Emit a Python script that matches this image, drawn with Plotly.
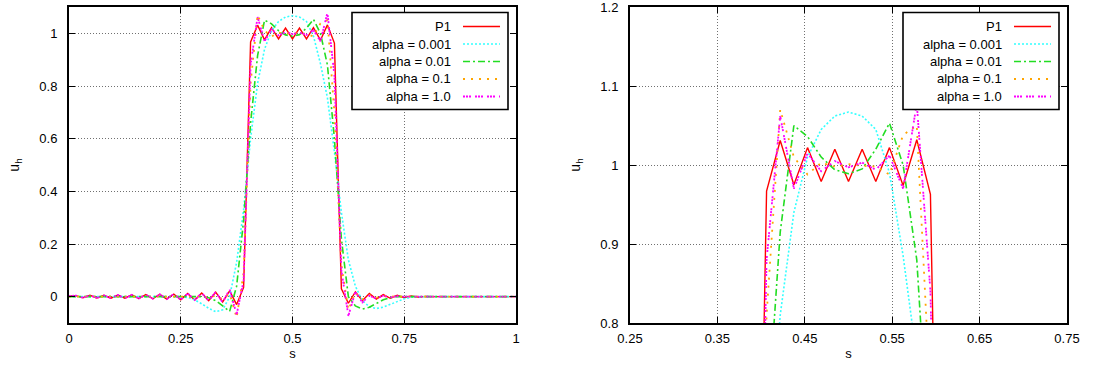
import plotly.graph_objects as go

# ---------------- data (mesh nodes s = k/64, k = 0..64) ----------------
s_nodes = [k / 64 for k in range(65)]

u_p1 = [
    0.002, 0.004, -0.004, 0.005, -0.005, 0.005, -0.006, 0.006, -0.006, 0.007,   # 0-9
    -0.007, 0.008, -0.008, 0.009, -0.009, 0.010, -0.012, 0.012, -0.013, 0.014,  # 10-19
    -0.015, 0.017, -0.020, 0.022, -0.030, 0.035, 0.967, 1.031, 0.975, 1.022,    # 20-29
    0.979, 1.020, 0.979, 1.020, 0.979, 1.022, 0.974, 1.032, 0.963, 0.030,       # 30-39
    -0.025, 0.018, -0.015, 0.012, -0.009, 0.008, -0.006, 0.005, -0.004, 0.003,  # 40-49
    -0.002, 0.001, 0.0, 0.0, 0.0, 0.0, 0.0, 0.0, 0.0, 0.0,                      # 50-59
    0.0, 0.0, 0.0, 0.0, 0.0,                                                    # 60-64
]

u_a0001 = [
    0.0, 0.0, 0.0, 0.0, 0.0, 0.0, 0.0, 0.0, 0.0, 0.0,                           # 0-9
    0.0, 0.0, 0.0, 0.0, 0.0, 0.0, 0.0, -0.003, -0.012, -0.027,                  # 10-19
    -0.044, -0.057, -0.050, 0.000, 0.130, 0.330, 0.600, 0.810, 0.940, 1.010,    # 20-29
    1.045, 1.062, 1.067, 1.062, 1.045, 0.990, 0.885, 0.755, 0.550, 0.320,       # 30-39
    0.140, 0.040, -0.015, -0.038, -0.045, -0.040, -0.030, -0.018, -0.008, -0.002,  # 40-49
    0.0, 0.0, 0.0, 0.0, 0.0, 0.0, 0.0, 0.0, 0.0, 0.0,                           # 50-59
    0.0, 0.0, 0.0, 0.0, 0.0,                                                    # 60-64
]

u_a001 = [
    0.0, 0.0, 0.0, 0.0, 0.0, 0.0, 0.0, 0.0, 0.0, 0.0,                           # 0-9
    0.0, 0.0, 0.0, 0.0, 0.0, 0.0, 0.0, 0.0, 0.0, 0.0,                           # 10-19
    -0.004, -0.015, -0.035, -0.056, 0.040, 0.290, 0.660, 0.915, 1.050, 1.036,   # 20-29
    1.010, 0.994, 0.989, 0.995, 1.020, 1.053, 1.000, 0.880, 0.600, 0.220,       # 30-39
    0.000, -0.035, -0.047, -0.040, -0.026, -0.012, -0.004, 0.0, 0.0, 0.0,       # 40-49
    0.0, 0.0, 0.0, 0.0, 0.0, 0.0, 0.0, 0.0, 0.0, 0.0,                           # 50-59
    0.0, 0.0, 0.0, 0.0, 0.0,                                                    # 60-64
]

u_a01 = [
    0.0, 0.0, 0.0, 0.0, 0.0, 0.0, 0.0, 0.0, 0.0, 0.0,                           # 0-9
    0.0, 0.0, 0.0, 0.0, 0.0, 0.0, 0.0, 0.0, 0.0, 0.0,                           # 10-19
    -0.004, 0.004, -0.010, 0.012, -0.080, 0.090, 0.810, 1.070, 1.010, 0.988,    # 20-29
    1.003, 0.998, 1.001, 0.999, 0.998, 0.988, 1.038, 1.050, 0.700, 0.120,       # 30-39
    -0.050, 0.015, -0.010, 0.006, -0.004, 0.002, 0.0, 0.0, 0.0, 0.0,           # 40-49
    0.0, 0.0, 0.0, 0.0, 0.0, 0.0, 0.0, 0.0, 0.0, 0.0,                           # 50-59
    0.0, 0.0, 0.0, 0.0, 0.0,                                                    # 60-64
]

u_a1 = [
    0.002, 0.004, -0.004, 0.005, -0.005, 0.005, -0.006, 0.006, -0.006, 0.007,   # 0-9
    -0.007, 0.008, -0.008, 0.009, -0.009, 0.010, -0.011, 0.012, -0.013, 0.014,  # 10-19
    -0.016, 0.018, -0.022, 0.028, -0.068, 0.060, 0.880, 1.062, 0.970, 1.015,    # 20-29
    0.992, 1.005, 0.997, 1.003, 0.994, 1.012, 0.970, 1.078, 0.840, 0.100,       # 30-39
    -0.073, 0.018, -0.022, 0.004, -0.008, 0.004, -0.003, 0.002, 0.0, 0.0,      # 40-49
    0.0, 0.0, 0.0, 0.0, 0.0, 0.0, 0.0, 0.0, 0.0, 0.0,                           # 50-59
    0.0, 0.0, 0.0, 0.0, 0.0,                                                    # 60-64
]

series_names = ["P1", "alpha = 0.001", "alpha = 0.01", "alpha = 0.1", "alpha = 1.0"]
series_values = [u_p1, u_a0001, u_a001, u_a01, u_a1]

left_xticks = [0, 0.25, 0.5, 0.75, 1]
left_xticktext = ["0", "0.25", "0.5", "0.75", "1"]
left_yticks = [0, 0.2, 0.4, 0.6, 0.8, 1]
left_yticktext = ["0", "0.2", "0.4", "0.6", "0.8", "1"]
right_xticks = [0.25, 0.35, 0.45, 0.55, 0.65, 0.75]
right_xticktext = ["0.25", "0.35", "0.45", "0.55", "0.65", "0.75"]
right_yticks = [0.8, 0.9, 1.0, 1.1, 1.2]
right_yticktext = ["0.8", "0.9", "1", "1.1", "1.2"]

x_title = "s"
y_title = "u<sub>h</sub>"

# ---------------- styles ----------------
W, H = 1094, 367
FONT = "Liberation Sans, Arial, Helvetica, sans-serif"
colors = ["#ff0000", "#33ffff", "#22dd22", "#ffa500", "#ff00ff"]
dashes = ["solid", "2px,2px", "7px,3px,2px,3px", "2px,6px", "2px,1px,2px,1px,2px,4px"]
widths = [1.4, 1.6, 1.6, 1.8, 1.8]

def px(x):
    return x / W

def py(y):
    return 1 - y / H

fig = go.Figure()

for ax_suffix in ["", "2"]:
    for name, vals, c, d, w in zip(series_names, series_values, colors, dashes, widths):
        fig.add_trace(go.Scatter(
            x=s_nodes, y=vals, mode="lines", name=name,
            line=dict(color=c, dash=d, width=w),
            xaxis="x" + ax_suffix, yaxis="y" + ax_suffix,
            showlegend=False, hoverinfo="skip",
        ))

# plot frames in pixels
L_frame = (69, 516)
R_frame = (630, 1067)
TOP, BOT = 7, 323

axis_common = dict(
    showline=True, linecolor="black", linewidth=2, mirror="allticks",
    ticks="inside", ticklen=6, tickwidth=1, tickcolor="black",
    showgrid=True, gridcolor="#707070", griddash="1px,2px", gridwidth=1,
    zeroline=False, tickfont=dict(family=FONT, size=13, color="black"),
    automargin=False, fixedrange=True, ticklabeloverflow="allow",
)
xtitle = dict(text=x_title, font=dict(family=FONT, size=13, color="black"), standoff=4)
ytitle = dict(text=y_title, font=dict(family=FONT, size=14, color="black"), standoff=16)

fig.update_layout(
    width=W, height=H,
    margin=dict(l=0, r=0, t=0, b=0),
    paper_bgcolor="white", plot_bgcolor="white",
    showlegend=False,
    xaxis=dict(domain=[px(L_frame[0]), px(L_frame[1])], range=[-0.00001, 1.00001],
               tickmode="array", tickvals=left_xticks, ticktext=left_xticktext,
               anchor="y", ticklabelstandoff=2, title=xtitle, **axis_common),
    yaxis=dict(domain=[py(BOT), py(TOP)], range=[-0.1, 1.1],
               tickmode="array", tickvals=left_yticks, ticktext=left_yticktext,
               anchor="x", ticklabelstandoff=7, title=ytitle, **axis_common),
    xaxis2=dict(domain=[px(R_frame[0]), px(R_frame[1])], range=[0.24999, 0.75001],
                tickmode="array", tickvals=right_xticks, ticktext=right_xticktext,
                anchor="y2", ticklabelstandoff=2, title=xtitle, **axis_common),
    yaxis2=dict(domain=[py(BOT), py(TOP)], range=[0.79999, 1.20001],
                tickmode="array", tickvals=right_yticks, ticktext=right_yticktext,
                anchor="x2", ticklabelstandoff=7, title=ytitle, **axis_common),
)

annotations = []
shapes = []

# gnuplot-style legends (label, then line sample)
for fl, fr in [L_frame, R_frame]:
    box_r = fr - 8
    box_l = box_r - 156
    box_t, box_b = 12.5, 109.5
    shapes.append(dict(type="rect", xref="paper", yref="paper",
                       x0=px(box_l), x1=px(box_r), y0=py(box_b), y1=py(box_t),
                       line=dict(color="black", width=1.6), fillcolor="white", layer="above"))
    for i, (name, c, d, w) in enumerate(zip(series_names, colors, dashes, widths)):
        yrow = 26.5 + 17.5 * i
        annotations.append(dict(x=px(box_r - 55), y=py(yrow), xref="paper", yref="paper",
                                text=name, showarrow=False, xanchor="right", yanchor="middle",
                                font=dict(family=FONT, size=13, color="black")))
        shapes.append(dict(type="line", xref="paper", yref="paper",
                           x0=px(box_r - 45), x1=px(box_r - 8), y0=py(yrow), y1=py(yrow),
                           line=dict(color=c, dash=d, width=w), layer="above"))

fig.update_layout(annotations=annotations, shapes=shapes)

fig.write_html("out.html")
